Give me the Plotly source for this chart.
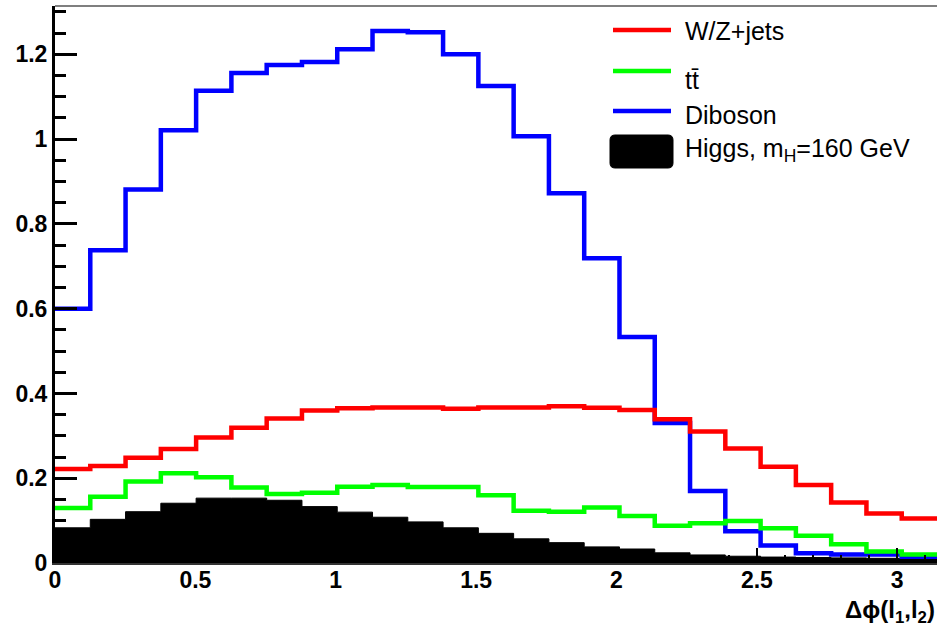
import numpy as np
import plotly.graph_objects as go

# ---- data (25 bins from 0 to pi) ----
n_bins = 25
x_min, x_max = 0.0, np.pi

wz_jets = [0.222, 0.229, 0.248, 0.269, 0.296, 0.319, 0.341, 0.360, 0.365, 0.367,
           0.367, 0.364, 0.367, 0.367, 0.370, 0.366, 0.361, 0.339, 0.310, 0.270,
           0.227, 0.184, 0.143, 0.117, 0.105]
ttbar = [0.130, 0.156, 0.192, 0.212, 0.202, 0.178, 0.163, 0.166, 0.180, 0.184,
         0.179, 0.179, 0.160, 0.123, 0.121, 0.131, 0.111, 0.088, 0.094, 0.099,
         0.082, 0.064, 0.044, 0.027, 0.020]
diboson = [0.600, 0.738, 0.881, 1.021, 1.114, 1.156, 1.175, 1.182, 1.212, 1.255,
           1.252, 1.200, 1.125, 1.007, 0.872, 0.719, 0.533, 0.330, 0.170, 0.075,
           0.041, 0.023, 0.020, 0.020, 0.015]
higgs = [0.083, 0.103, 0.121, 0.141, 0.153, 0.153, 0.148, 0.133, 0.120, 0.108,
         0.097, 0.083, 0.070, 0.057, 0.048, 0.038, 0.033, 0.024, 0.019, 0.016,
         0.014, 0.013, 0.012, 0.011, 0.010]

labels = ["W/Z+jets", "tt\u0304", "Diboson", "Higgs, m<sub>H</sub>=160 GeV"]
colors = ["#ff0000", "#00ff00", "#0000ff", "#000000"]

edges = np.linspace(x_min, x_max, n_bins + 1)


def step_y(vals):
    return list(vals) + [vals[-1]]


fig = go.Figure()

# Higgs (filled, drawn first)
fig.add_trace(go.Scatter(x=edges, y=step_y(higgs), mode="lines", line_shape="hv",
                         line=dict(color=colors[3], width=1), fill="tozeroy",
                         fillcolor=colors[3], showlegend=False, hoverinfo="skip"))
# Diboson
fig.add_trace(go.Scatter(x=edges, y=step_y(diboson), mode="lines", line_shape="hv",
                         line=dict(color=colors[2], width=4.5), showlegend=False))
# ttbar
fig.add_trace(go.Scatter(x=edges, y=step_y(ttbar), mode="lines", line_shape="hv",
                         line=dict(color=colors[1], width=4.5), showlegend=False))
# W/Z+jets
fig.add_trace(go.Scatter(x=edges, y=step_y(wz_jets), mode="lines", line_shape="hv",
                         line=dict(color=colors[0], width=4.5), showlegend=False))

W, H = 937, 630
ml, mr, mt, mb = 55, 0, 6, 67
pw, ph = W - ml - mr, H - mt - mb


def px(xp):
    return (xp - ml) / pw


def py(yp):
    return (H - mb - yp) / ph


tick_font = dict(family="Liberation Sans, Arial, sans-serif", size=23, color="black", weight="bold")

fig.update_layout(
    width=W, height=H,
    margin=dict(l=ml, r=mr, t=mt, b=mb, pad=0),
    paper_bgcolor="white", plot_bgcolor="white",
    showlegend=False,
    xaxis=dict(range=[x_min, x_max], showgrid=False, zeroline=False,
               showline=True, linecolor="#333333", linewidth=2,
               ticks="inside", ticklen=15, tickwidth=2, tickcolor="black",
               tick0=0, dtick=0.5, tickfont=tick_font, ticklabelstandoff=-5,
               minor=dict(ticks="inside", dtick=0.1, ticklen=8, tickwidth=2, tickcolor="black", showgrid=False)),
    yaxis=dict(range=[0, 1.314], showgrid=False, zeroline=False,
               showline=True, linecolor="black", linewidth=3,
               ticks="inside", ticklen=22, tickwidth=3, tickcolor="black",
               tick0=0, dtick=0.2, tickfont=tick_font,
               minor=dict(ticks="inside", dtick=0.05, ticklen=11, tickwidth=3, tickcolor="black", showgrid=False)),
)

# top frame line
fig.add_shape(type="line", xref="paper", yref="paper", x0=0, x1=1, y0=1, y1=1,
              line=dict(color="#555555", width=1.5))

# ---- legend (manual, ROOT style) ----
leg_font = dict(family="Liberation Sans, Arial, sans-serif", size=25, color="black")
line_rows = [30, 71, 111]
text_rows = [31, 80, 115]
for i in range(3):
    fig.add_shape(type="line", xref="paper", yref="paper",
                  x0=px(613), x1=px(671), y0=py(line_rows[i]), y1=py(line_rows[i]),
                  line=dict(color=colors[i], width=4.5))
    fig.add_annotation(text=labels[i], xref="paper", yref="paper", x=px(683), y=py(text_rows[i]),
                       xanchor="left", yanchor="middle", showarrow=False, font=leg_font)

# Higgs filled box with rounded corners
x0, x1, y0, y1 = px(610), px(673), py(168), py(135)
rx, ry = 5 / pw, 5 / ph
path = (f"M {x0+rx},{y0} L {x1-rx},{y0} Q {x1},{y0} {x1},{y0+ry} L {x1},{y1-ry} "
        f"Q {x1},{y1} {x1-rx},{y1} L {x0+rx},{y1} Q {x0},{y1} {x0},{y1-ry} "
        f"L {x0},{y0+ry} Q {x0},{y0} {x0+rx},{y0} Z")
fig.add_shape(type="path", xref="paper", yref="paper", path=path,
              fillcolor="black", line=dict(color="black", width=1))
fig.add_annotation(text=labels[3], xref="paper", yref="paper", x=px(683), y=py(150),
                   xanchor="left", yanchor="middle", showarrow=False, font=leg_font)

# x-axis title
fig.add_annotation(text="<b>\u0394\u03d5(l<sub>1</sub>,l<sub>2</sub>)</b>", xref="paper", yref="paper",
                   x=1, y=py(611), xanchor="right", yanchor="middle", showarrow=False,
                   font=dict(family="Liberation Sans, Arial, sans-serif", size=24, color="black"))

fig.write_html("out.html")
